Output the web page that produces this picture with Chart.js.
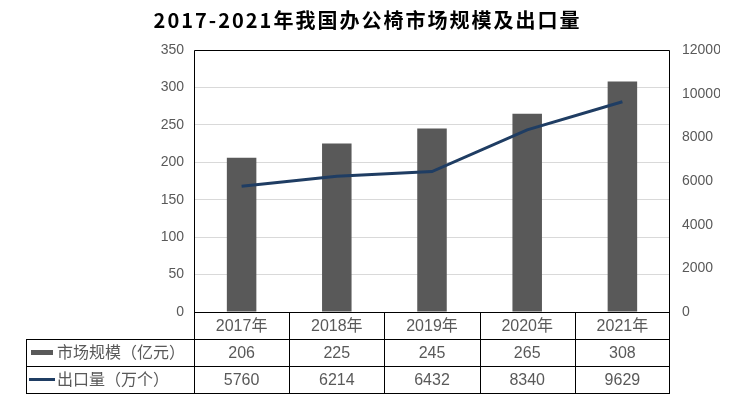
<!DOCTYPE html>
<html>
<head>
<meta charset="utf-8">
<script src="https://cdn.jsdelivr.net/npm/chart.js@4"></script>
<style>
  html, body { margin: 0; padding: 0; background: #fff; }
  #wrap { width: 733px; height: 404px; position: relative; }
</style>
</head>
<body>
<div id="wrap"><canvas id="chart"></canvas></div>
<script>
const years = ["2017年", "2018年", "2019年", "2020年", "2021年"];
const marketSize = [206, 225, 245, 265, 308];
const exportQty = [5760, 6214, 6432, 8340, 9629];
const seriesNames = ["市场规模（亿元）", "出口量（万个）"];
const titleText = "2017-2021年我国办公椅市场规模及出口量";

const barColor = "#595959";
const lineColor = "#1f3d63";
const textColor = "#595959";
const textFont = "'Liberation Sans', 'Noto Sans CJK SC', sans-serif";

// title centred on the whole canvas, with a little letter spacing
const titlePlugin = {
  id: "pageTitle",
  afterDraw(chart) {
    const ctx = chart.ctx;
    ctx.save();
    ctx.fillStyle = "#000";
    ctx.font = "bold 20px 'Noto Sans CJK SC', sans-serif";
    ctx.letterSpacing = "2px";
    ctx.textAlign = "center";
    ctx.textBaseline = "middle";
    ctx.fillText(titleText, chart.width / 2 + 1, 20);
    ctx.restore();
  }
};

// draws the frame round the plot and the data table under it
const tablePlugin = {
  id: "dataTable",
  afterDraw(chart) {
    const ctx = chart.ctx;
    const area = chart.chartArea;
    const x = chart.scales.x;
    const rowH = 27;
    const tableLeft = 26;
    const top = area.bottom;

    const centers = years.map((_, i) => x.getPixelForValue(i));
    const edges = [area.left];
    for (let i = 0; i < centers.length - 1; i++) {
      edges.push((centers[i] + centers[i + 1]) / 2);
    }
    edges.push(area.right);

    ctx.save();
    ctx.strokeStyle = "#000";
    ctx.lineWidth = 1;

    // plot frame
    ctx.beginPath();
    ctx.moveTo(area.left + 0.5, area.bottom);
    ctx.lineTo(area.left + 0.5, area.top + 0.5);
    ctx.lineTo(area.right - 0.5, area.top + 0.5);
    ctx.lineTo(area.right - 0.5, area.bottom);
    ctx.stroke();

    // table lines
    ctx.beginPath();
    ctx.moveTo(area.left, top + 0.5);
    ctx.lineTo(area.right, top + 0.5);
    for (let r = 1; r <= 3; r++) {
      const y = Math.round(top + r * rowH) + 0.5;
      ctx.moveTo(tableLeft, y);
      ctx.lineTo(area.right, y);
    }
    edges.forEach((ex, i) => {
      const xx = Math.round(ex) + (i === edges.length - 1 ? -0.5 : 0.5);
      ctx.moveTo(xx, top);
      ctx.lineTo(xx, top + 3 * rowH);
    });
    ctx.moveTo(tableLeft + 0.5, top + rowH);
    ctx.lineTo(tableLeft + 0.5, top + 3 * rowH);
    ctx.stroke();

    // texts
    ctx.fillStyle = textColor;
    ctx.font = "16px " + textFont;
    ctx.textAlign = "center";
    ctx.textBaseline = "middle";
    years.forEach((y, i) => ctx.fillText(y, centers[i], top + rowH * 0.5 + 1));
    marketSize.forEach((v, i) => ctx.fillText(String(v), centers[i], top + rowH * 1.5 + 1));
    exportQty.forEach((v, i) => ctx.fillText(String(v), centers[i], top + rowH * 2.5 + 1));

    // legend keys
    ctx.fillStyle = barColor;
    ctx.fillRect(31, top + rowH * 1.5 - 2.5, 22, 5);
    ctx.strokeStyle = lineColor;
    ctx.lineWidth = 3;
    ctx.beginPath();
    ctx.moveTo(29, top + rowH * 2.5);
    ctx.lineTo(55, top + rowH * 2.5);
    ctx.stroke();

    ctx.fillStyle = textColor;
    ctx.textAlign = "left";
    ctx.fillText(seriesNames[0], 57, top + rowH * 1.5 + 1);
    ctx.fillText(seriesNames[1], 57, top + rowH * 2.5 + 1);
    ctx.restore();
  }
};

new Chart(document.getElementById("chart"), {
  data: {
    labels: years,
    datasets: [
      {
        type: "line",
        label: seriesNames[1],
        data: exportQty,
        yAxisID: "y1",
        borderColor: lineColor,
        borderWidth: 3,
        pointRadius: 0,
        tension: 0,
        order: 0
      },
      {
        type: "bar",
        label: seriesNames[0],
        data: marketSize,
        yAxisID: "y",
        backgroundColor: barColor,
        barPercentage: 0.62,
        categoryPercentage: 0.5,
        order: 1
      }
    ]
  },
  plugins: [tablePlugin, titlePlugin],
  options: {
    responsive: true,
    maintainAspectRatio: false,
    animation: false,
    layout: { padding: { left: 140, right: 13, top: 50, bottom: 92 } },
    plugins: {
      legend: { display: false },
      tooltip: { enabled: false },
      title: { display: false }
    },
    scales: {
      x: { display: false, offset: true },
      y: {
        position: "left",
        min: 0,
        max: 350,
        ticks: { stepSize: 50, color: textColor, font: { family: textFont, size: 14 }, padding: 10 },
        grid: { color: "#d9d9d9", drawTicks: false },
        border: { display: false },
        afterFit(scale) { scale.width = 54; }
      },
      y1: {
        position: "right",
        min: 0,
        max: 12000,
        ticks: {
          stepSize: 2000,
          color: textColor,
          font: { family: textFont, size: 14 },
          padding: 12,
          callback: (v) => String(v)
        },
        grid: { display: false, drawTicks: false },
        border: { display: false },
        afterFit(scale) { scale.width = 50; }
      }
    }
  }
});
</script>
</body>
</html>
